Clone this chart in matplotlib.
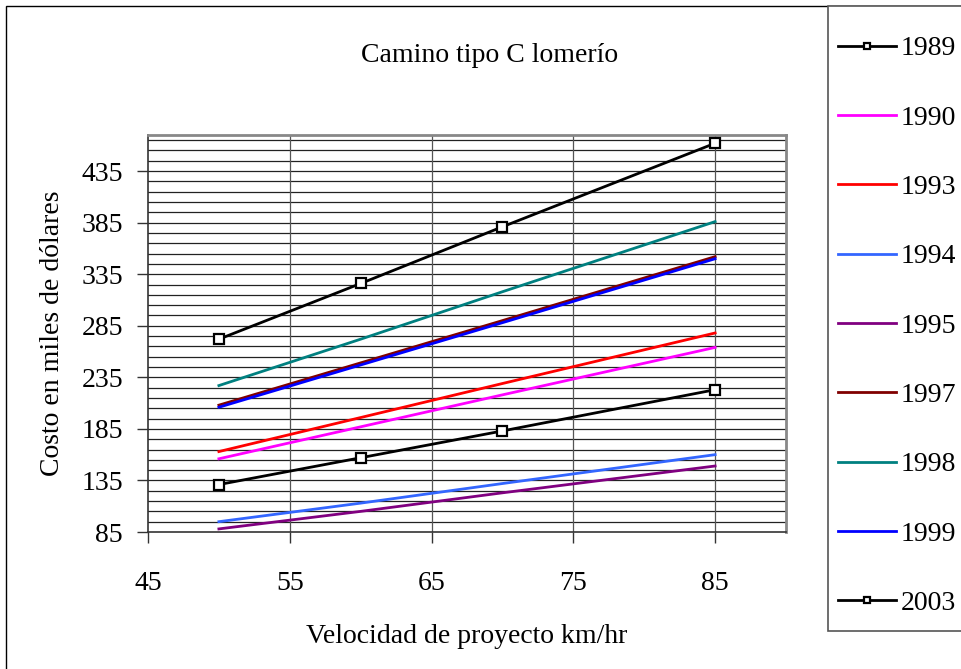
import matplotlib
matplotlib.use("Agg")
import matplotlib.pyplot as plt
from matplotlib.patches import Rectangle
from matplotlib.lines import Line2D
import numpy as np

plt.rcParams["font.family"] = ["Liberation Serif", "DejaVu Serif"]

velocidad = [50, 60, 70, 85]
years = ["1989", "1990", "1993", "1994", "1995", "1997", "1998", "1999", "2003"]
costos = {
    "1989": [272, 326, 381, 462],
    "1990": [156, 187, 218, 264],
    "1993": [163, 196, 229, 278],
    "1994": [95, 113, 132, 160],
    "1995": [88, 105, 123, 149],
    "1997": [208, 249, 290, 352],
    "1998": [227, 272, 318, 386],
    "1999": [206, 247, 288, 350],
    "2003": [131, 157, 183, 223],
}
colors = {
    "1989": "black", "1990": "#ff00ff", "1993": "#ff0000", "1994": "#3366ff",
    "1995": "#800080", "1997": "#800000", "1998": "#008080", "1999": "#0000ff",
    "2003": "black",
}
with_marker = {"1989", "2003"}

W, H = 961, 669
FS = 20
fig = plt.figure(figsize=(W / 100, H / 100), dpi=100)
ax = fig.add_axes([148 / W, 1 - 532 / H, (786 - 148) / W, (532 - 135) / H])

# minor horizontal grid every 10, vertical grid every 10
for yv in np.arange(95, 470, 10):
    ax.axhline(yv, color="#222222", linewidth=0.9, zorder=1)
for xv in [55, 65, 75, 85]:
    ax.axvline(xv, color="#555555", linewidth=0.9, zorder=1)

for yr in years:
    kw = dict(color=colors[yr], linewidth=2, zorder=3)
    if yr in with_marker:
        kw.update(marker="s", markersize=7, markerfacecolor="white",
                  markeredgecolor="black", markeredgewidth=1.6)
    ax.plot(velocidad, costos[yr], label=yr, **kw)

ax.set_xlim(45, 90)
ax.set_ylim(85, 470)
ax.set_xticks([45, 55, 65, 75, 85])
ax.set_yticks(np.arange(85, 436, 50))
ax.tick_params(axis="both", labelsize=FS, direction="out", length=8, width=1, color="#333333")
ax.tick_params(axis="y", pad=10)
ax.tick_params(axis="x", pad=20)
for side in ["top", "right"]:
    ax.spines[side].set_color("#888888")
    ax.spines[side].set_linewidth(2)
for side in ["left", "bottom"]:
    ax.spines[side].set_color("#333333")
    ax.spines[side].set_linewidth(1.2)

ax.set_xlabel("Velocidad de proyecto km/hr", fontsize=FS, labelpad=20)
ax.set_ylabel("Costo en miles de dólares", fontsize=FS, labelpad=12)
fig.text(490 / W, 1 - 56 / H, "Camino tipo C lomerío", fontsize=FS,
         ha="center", va="center")

# outer chart border and legend box
fig.add_artist(Rectangle((6 / W, -0.05), 1.1, 1 - 6 / H + 0.05,
                         transform=fig.transFigure, fill=False,
                         edgecolor="black", linewidth=1))
fig.add_artist(Rectangle((828 / W, 1 - 631 / H), 0.3, (631 - 6) / H,
                         transform=fig.transFigure, fill=True, facecolor="white",
                         edgecolor="#555555", linewidth=1.2))

leg_handles = []
for yr in years:
    if yr in with_marker:
        h = Line2D([], [], color="black", linewidth=2, marker="s", markersize=5,
                   markerfacecolor="white", markeredgecolor="black",
                   markeredgewidth=1.6)
    else:
        h = Line2D([], [], color=colors[yr], linewidth=2)
    leg_handles.append(h)

fig.legend(leg_handles, years, loc="upper left",
           bbox_to_anchor=(838 / W, 1 - 36 / H), frameon=False,
           fontsize=FS, handlelength=2.1, handletextpad=0.15,
           labelspacing=1.58, borderpad=0, borderaxespad=0)

fig.savefig("out.png", dpi=100)
